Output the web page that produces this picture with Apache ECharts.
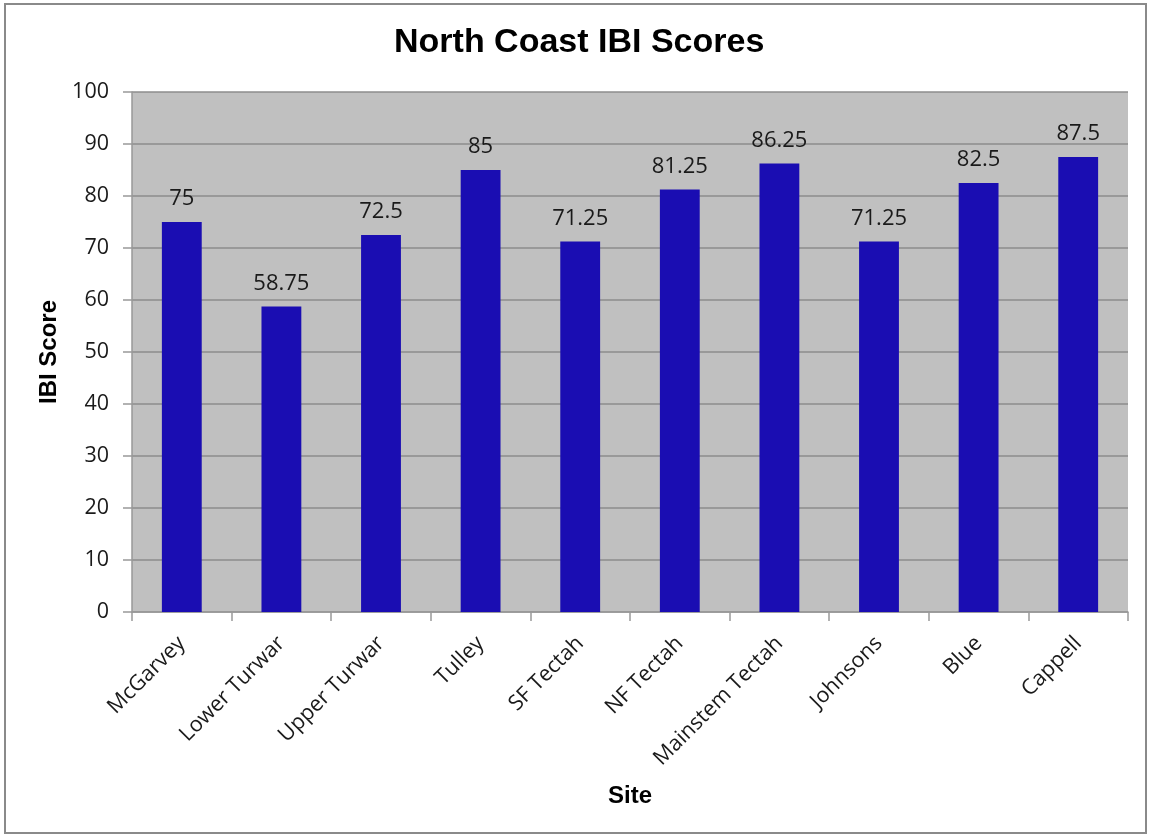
<!DOCTYPE html>
<html><head><meta charset="utf-8">
<script src="https://cdn.jsdelivr.net/npm/echarts@6/dist/echarts.min.js"></script>
<style>html,body{margin:0;padding:0;background:#fff}#c{width:1151px;height:838px}</style>
</head><body><div id="c"></div>
<script>
const sites = ["McGarvey","Lower Turwar","Upper Turwar","Tulley","SF Tectah","NF Tectah","Mainstem Tectah","Johnsons","Blue","Cappell"];
const scores = [75,58.75,72.5,85,71.25,81.25,86.25,71.25,82.5,87.5];
const yTicks = [0,10,20,30,40,50,60,70,80,90,100];

const chart = echarts.init(document.getElementById('c'), null, {renderer:'canvas'});
chart.setOption({
  animation:false,
  backgroundColor:'#fff',
  graphic:[{type:'rect',shape:{x:5,y:4,width:1141,height:829},style:{fill:'none',stroke:'#8a8a8a',lineWidth:2},silent:true}],
  title:{text:'North Coast IBI Scores',left:389,top:21,textStyle:{fontFamily:'Liberation Sans',fontWeight:'bold',fontSize:34,color:'#000'}},
  grid:{left:132,right:23,top:92,bottom:226,show:true,backgroundColor:'#c0c0c0',borderWidth:0},
  xAxis:{type:'category',data:sites,boundaryGap:true,
    name:'Site',nameLocation:'middle',nameGap:172,
    nameTextStyle:{fontFamily:'Liberation Sans',fontWeight:'bold',fontSize:24,color:'#000'},
    axisLine:{lineStyle:{color:'#999',width:1.5}},
    axisTick:{show:true,alignWithLabel:false,length:9,lineStyle:{color:'#999',width:1.5}},
    axisLabel:{rotate:45,fontFamily:'Open Sans',fontSize:21.5,color:'#1a1a1a',margin:28,interval:0}},
  yAxis:{type:'value',min:0,max:100,interval:10,
    name:'IBI Score',nameLocation:'middle',nameGap:66,
    nameTextStyle:{fontFamily:'Liberation Sans',fontWeight:'bold',fontSize:24,color:'#000'},
    axisLine:{show:true,lineStyle:{color:'#999',width:1.5}},
    axisTick:{show:true,length:9,lineStyle:{color:'#999',width:1.5}},
    axisLabel:{fontFamily:'Open Sans',fontSize:21.5,color:'#1a1a1a',margin:23,
      formatter:v=>yTicks.includes(v)?String(v):''},
    splitLine:{show:true,lineStyle:{color:'#8c8c8c',width:1.5}}},
  series:[{type:'bar',data:scores,barWidth:'40%',
    itemStyle:{color:'#1a0db2'},
    label:{show:true,position:'top',distance:12,fontFamily:'Open Sans',fontSize:22,color:'#1a1a1a'}}]
});
</script></body></html>
